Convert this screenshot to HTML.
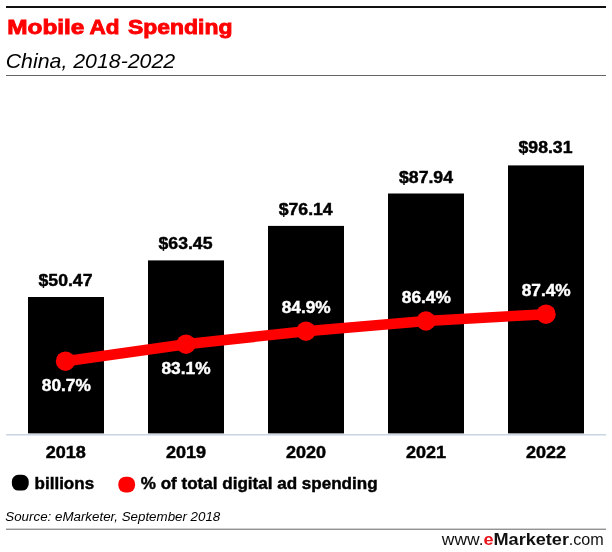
<!DOCTYPE html>
<html lang="en">
<head>
<meta charset="utf-8">
<title>Mobile Ad Spending — China, 2018-2022</title>
<style>
html,body{margin:0;padding:0;background:#fff;}
body{width:612px;height:552px;overflow:hidden;font-family:"Liberation Sans",sans-serif;}
svg{display:block;}
text{font-family:"Liberation Sans",sans-serif;}
.b{font-weight:bold;font-size:17px;fill:#000;stroke:#000;stroke-width:0.45px;text-anchor:middle;}
.w{font-weight:bold;font-size:17px;fill:#fff;stroke:#fff;stroke-width:0.45px;text-anchor:middle;}
</style>
</head>
<body>
<svg width="612" height="552" viewBox="0 0 612 552">
<rect width="612" height="552" fill="#fff"/>
<!-- header -->
<rect x="6" y="6" width="600" height="2" fill="#111"/>
<g font-size="21" font-weight="bold" fill="#f00" stroke="#f00" stroke-width="0.9">
<text x="7.2" y="34.3" textLength="77.2" lengthAdjust="spacingAndGlyphs">Mobile</text>
<text x="89.6" y="34.3" textLength="30" lengthAdjust="spacingAndGlyphs">Ad</text>
<text x="128" y="34.3" textLength="104.5" lengthAdjust="spacingAndGlyphs">Spending</text>
</g>
<text x="5.7" y="67.7" font-size="21" font-style="italic" fill="#000" textLength="169.5" lengthAdjust="spacingAndGlyphs">China, 2018-2022</text>
<rect x="6" y="75" width="600" height="1" fill="#666"/>
<!-- bars -->
<g fill="#000">
<rect x="28" y="297" width="76" height="136.4"/>
<rect x="148" y="260.4" width="76" height="173.0"/>
<rect x="268" y="225.9" width="76" height="207.5"/>
<rect x="388" y="193.5" width="76" height="239.9"/>
<rect x="508" y="165.4" width="76" height="268.0"/>
</g>
<rect x="6" y="434.1" width="600" height="1.4" fill="#c6d2e2"/>
<!-- value labels -->
<text class="b" x="65.5" y="285.7" textLength="54" lengthAdjust="spacingAndGlyphs">$50.47</text>
<text class="b" x="185.5" y="249" textLength="54" lengthAdjust="spacingAndGlyphs">$63.45</text>
<text class="b" x="305.7" y="214.7" textLength="54" lengthAdjust="spacingAndGlyphs">$76.14</text>
<text class="b" x="426" y="182.6" textLength="54" lengthAdjust="spacingAndGlyphs">$87.94</text>
<text class="b" x="545.5" y="153" textLength="54" lengthAdjust="spacingAndGlyphs">$98.31</text>
<!-- line -->
<polyline points="65.5,361.2 186,344.2 306,331.2 426,321 546,314.2" fill="none" stroke="#f00" stroke-width="10.5" stroke-linejoin="round"/>
<g fill="#f00">
<circle cx="65.5" cy="361.2" r="9.7"/>
<circle cx="186" cy="344.2" r="9.7"/>
<circle cx="306" cy="331.2" r="9.7"/>
<circle cx="426" cy="321" r="9.7"/>
<circle cx="546" cy="314.2" r="9.7"/>
</g>
<!-- pct labels -->
<text class="w" x="66.3" y="390.5" textLength="49" lengthAdjust="spacingAndGlyphs">80.7%</text>
<text class="w" x="186" y="373.7" textLength="49" lengthAdjust="spacingAndGlyphs">83.1%</text>
<text class="w" x="306.2" y="312.8" textLength="49" lengthAdjust="spacingAndGlyphs">84.9%</text>
<text class="w" x="426.3" y="302.8" textLength="49" lengthAdjust="spacingAndGlyphs">86.4%</text>
<text class="w" x="546.2" y="296" textLength="49" lengthAdjust="spacingAndGlyphs">87.4%</text>
<!-- years -->
<text class="b" x="65.8" y="458" textLength="40.2" lengthAdjust="spacingAndGlyphs">2018</text>
<text class="b" x="186" y="458" textLength="40.2" lengthAdjust="spacingAndGlyphs">2019</text>
<text class="b" x="306" y="458" textLength="40.2" lengthAdjust="spacingAndGlyphs">2020</text>
<text class="b" x="426" y="458" textLength="40.2" lengthAdjust="spacingAndGlyphs">2021</text>
<text class="b" x="546" y="458" textLength="40.2" lengthAdjust="spacingAndGlyphs">2022</text>
<!-- legend -->
<rect x="11.9" y="474.8" width="16.8" height="15.8" rx="6.5" fill="#000"/>
<text x="34.6" y="489" font-size="17" font-weight="bold" fill="#000" stroke="#000" stroke-width="0.45">billions</text>
<rect x="118.3" y="476.7" width="16.8" height="15.8" rx="7.2" fill="#f00"/>
<text x="140.8" y="489" font-size="17" font-weight="bold" fill="#000" stroke="#000" stroke-width="0.45" textLength="236.8" lengthAdjust="spacingAndGlyphs">% of total digital ad spending</text>
<!-- footer -->
<text x="5.3" y="520.8" font-size="13.7" font-style="italic" fill="#000" textLength="215" lengthAdjust="spacingAndGlyphs">Source: eMarketer, September 2018</text>
<rect x="6" y="528.7" width="600" height="1" fill="#666"/>
<g font-size="16" fill="#111">
<text x="441.8" y="544.5" textLength="41.8" lengthAdjust="spacingAndGlyphs">www.</text>
<text x="483.4" y="544.5" font-weight="bold" textLength="85.6" lengthAdjust="spacingAndGlyphs"><tspan fill="#e8141c">e</tspan>Marketer</text>
<text x="568.8" y="544.5" textLength="35" lengthAdjust="spacingAndGlyphs">.com</text>
</g>
</svg>
</body>
</html>
